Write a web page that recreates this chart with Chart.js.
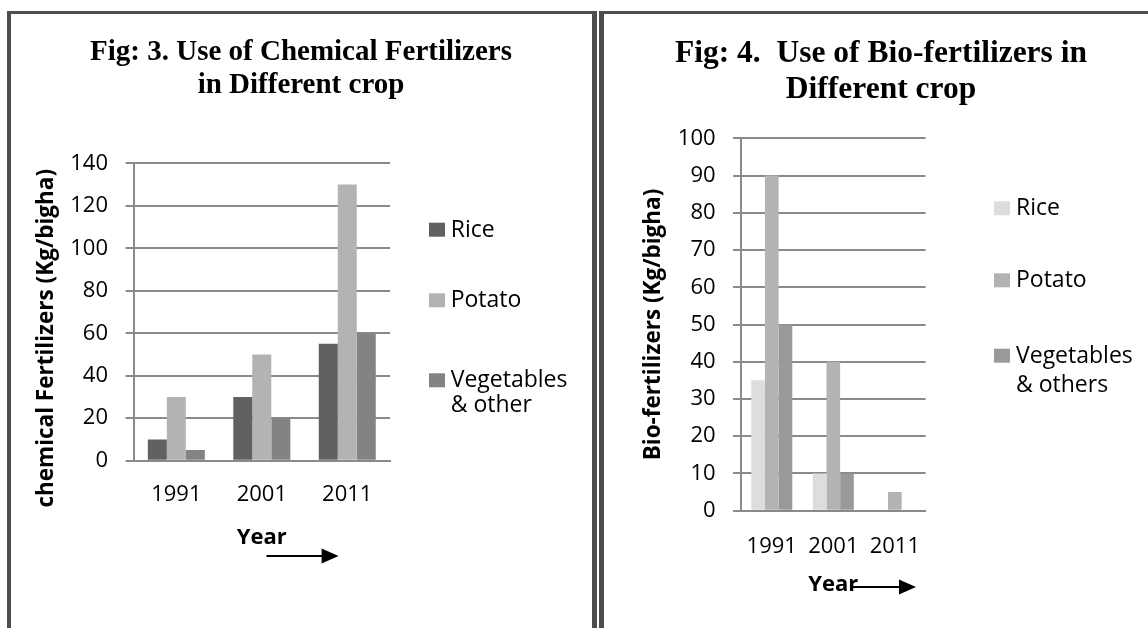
<!DOCTYPE html>
<html>
<head>
<meta charset="utf-8">
<script src="https://cdn.jsdelivr.net/npm/chart.js@4.4.1/dist/chart.umd.min.js"></script>
<style>
  body { margin: 0; background: #fff; width: 1148px; height: 628px; overflow: hidden; position: relative; }
  .panel { position: absolute; box-sizing: border-box; height: 700px; border-top: 3px solid #4d4d4d; }
  #panelLeft { left: 7px; top: 11px; width: 590px; border-left: 4px solid #4d4d4d; border-right: 5px solid #4d4d4d; }
  #panelRight { left: 599px; top: 11px; width: 560px; border-left: 5px solid #4d4d4d; }
  canvas { position: absolute; }
  #chemChart { left: 12px; top: 14px; }
  #bioChart { left: 604px; top: 14px; }
</style>
</head>
<body>
<div class="panel" id="panelLeft"></div>
<div class="panel" id="panelRight"></div>
<canvas id="chemChart" width="580" height="614"></canvas>
<canvas id="bioChart" width="544" height="614"></canvas>
<script>
// values (Kg/bigha)
var years = ['1991', '2001', '2011'];

var chemNames = ['Rice', 'Potato', 'Vegetables\n& other'];
var chemRice = [10, 30, 55];
var chemPotato = [30, 50, 130];
var chemVeg = [5, 20, 60];

var bioNames = ['Rice', 'Potato', 'Vegetables\n& others'];
var bioRice = [35, 10, 0];
var bioPotato = [90, 40, 5];
var bioVeg = [50, 10, 0];

var chemColors = ['#616161', '#b3b3b3', '#838383'];
var bioColors = ['#dddddd', '#b3b3b3', '#999999'];
var gridGrey = '#8a8a8a';
var sans = "'Open Sans', sans-serif";
var serif = "'Liberation Serif', 'Times New Roman', serif";

// title, legend and the arrow under "Year" are drawn by hand
function makeDecor(o) {
    return {
        id: 'decor',
        afterDraw: function (chart) {
            var ctx = chart.ctx;
            ctx.save();
            ctx.fillStyle = '#000';
            ctx.textBaseline = 'alphabetic';

            // title
            ctx.font = 'bold ' + o.titleSize + 'px ' + serif;
            ctx.textAlign = 'center';
            o.title.forEach(function (line, i) {
                ctx.fillText(line, o.titleX, o.titleY[i]);
            });

            // legend
            ctx.font = o.legendSize + 'px ' + sans;
            ctx.textAlign = 'left';
            chart.data.datasets.forEach(function (ds, i) {
                var y = o.legendY[i];
                ctx.fillStyle = ds.backgroundColor;
                ctx.fillRect(o.boxX, y - 14, 16, 14);
                ctx.fillStyle = '#000';
                ds.label.split('\n').forEach(function (t, j) {
                    ctx.fillText(t, o.textX, y + j * o.legendLine);
                });
            });

            // arrow
            var x1 = o.arrow[0], x2 = o.arrow[1], ay = o.arrow[2];
            ctx.strokeStyle = '#000';
            ctx.lineWidth = 2;
            ctx.beginPath();
            ctx.moveTo(x1, ay);
            ctx.lineTo(x2 - 14, ay);
            ctx.stroke();
            ctx.beginPath();
            ctx.moveTo(x2, ay);
            ctx.lineTo(x2 - 17, ay - 7.5);
            ctx.lineTo(x2 - 17, ay + 7.5);
            ctx.closePath();
            ctx.fill();
            ctx.restore();
        }
    };
}

function makeChart(id, names, series, colors, yMax, yStep, s) {
    return new Chart(document.getElementById(id), {
        type: 'bar',
        data: {
            labels: years,
            datasets: names.map(function (n, i) {
                return {
                    label: n,
                    data: series[i],
                    backgroundColor: colors[i],
                    categoryPercentage: 0.667,
                    barPercentage: 1
                };
            })
        },
        options: {
            responsive: false,
            animation: false,
            layout: { padding: s.padding },
            plugins: {
                legend: { display: false },
                title: { display: false },
                tooltip: { enabled: false }
            },
            scales: {
                x: {
                    grid: { display: false, drawTicks: false },
                    border: { display: true, color: gridGrey, width: 2 },
                    ticks: { padding: s.xPad, color: '#000', font: { family: sans, size: 22 } },
                    title: {
                        display: true, text: 'Year', color: '#000', padding: 0,
                        font: { family: sans, size: 22, weight: 'bold' }
                    },
                    afterFit: function (sc) { sc.height = s.xHeight; }
                },
                y: {
                    min: 0,
                    max: yMax,
                    ticks: { stepSize: yStep, padding: s.yPad, color: '#000', font: { family: sans, size: 22 } },
                    grid: { color: gridGrey, lineWidth: 2, tickLength: 8 },
                    border: { display: true, color: gridGrey, width: 2 },
                    title: {
                        display: true, text: s.yTitle, color: '#000',
                        padding: { top: s.yTitlePad, bottom: 0 },
                        font: { family: sans, size: 22.5, weight: 'bold' }
                    },
                    afterFit: function (sc) { sc.width = s.yWidth; }
                }
            }
        },
        plugins: [makeDecor(s.decor)]
    });
}

makeChart('chemChart', chemNames, [chemRice, chemPotato, chemVeg], chemColors, 140, 20, {
    padding: { left: 0, top: 149.3, right: 202, bottom: 77.3 },
    yWidth: 121.6, xHeight: 90, xPad: 21.1, yPad: 17.6, yTitlePad: 20.9,
    // trailing spaces push the axis title down a little, as in the figure
    yTitle: 'chemical Fertilizers (Kg/bigha)         ',
    decor: {
        title: ['Fig: 3. Use of Chemical Fertilizers', 'in Different crop'],
        titleSize: 29, titleX: 289, titleY: [46, 78.7],
        boxX: 417, textX: 438.7, legendY: [222.7, 293.3, 373.3], legendLine: 24.4, legendSize: 23,
        arrow: [254.5, 326.6, 542]
    }
});

makeChart('bioChart', bioNames, [bioRice, bioPotato, bioVeg], bioColors, 100, 10, {
    padding: { left: 0, top: 124.3, right: 222.4, bottom: 29.8 },
    yWidth: 137, xHeight: 87.5, xPad: 22.8, yPad: 17.4, yTitlePad: 36,
    yTitle: 'Bio-fertilizers (Kg/bigha)',
    decor: {
        title: ['Fig: 4.  Use of Bio-fertilizers in', 'Different crop'],
        titleSize: 31.5, titleX: 277, titleY: [47.7, 84.3],
        boxX: 390, textX: 412, legendY: [201.3, 273.3, 348.7], legendLine: 29, legendSize: 23,
        arrow: [248.5, 312, 573]
    }
});
</script>
</body>
</html>
